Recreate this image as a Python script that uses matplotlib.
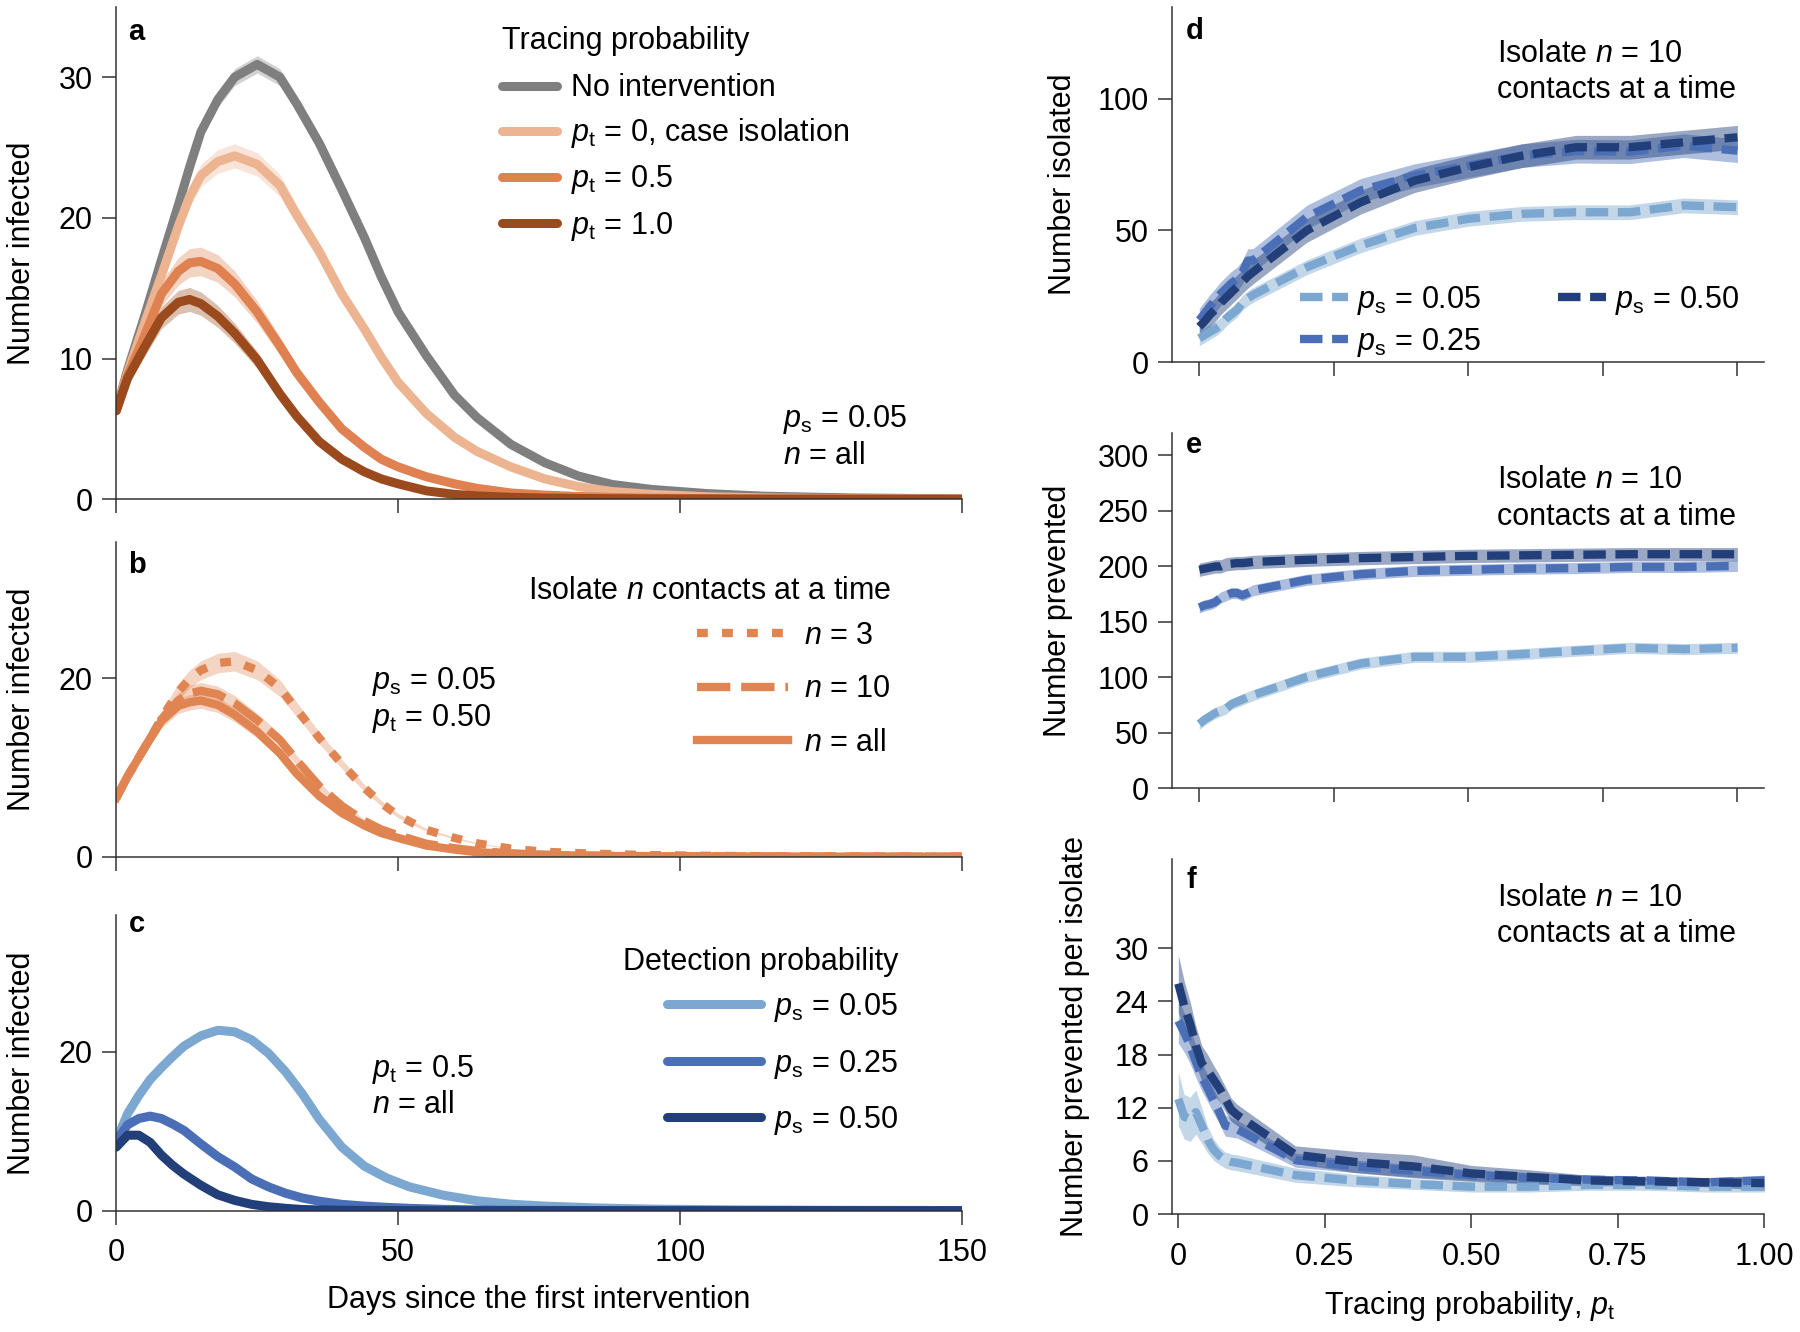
import matplotlib
matplotlib.use('Agg')
import matplotlib.pyplot as plt
import numpy as np

# ---- datos ----
# panel a: numero de infectados vs dias
days_a = [0, 2, 5, 8, 11, 13, 15, 18, 21, 25, 29, 32, 36, 40, 44, 47, 50, 55, 60, 64,
          70, 76, 82, 88, 95, 105, 115, 130, 150]
a_none = [6.3, 9.2, 13.0, 17.0, 20.9, 23.6, 26.1, 28.4, 30.0, 30.9, 30.0, 28.1, 25.3, 22.0, 18.6,
          15.8, 13.3, 10.2, 7.4, 5.8, 3.9, 2.6, 1.65, 1.05, 0.7, 0.4, 0.22, 0.1, 0.03]
a_pt0 = [6.3, 9.0, 12.5, 15.9, 19.4, 21.5, 23.0, 24.0, 24.4, 23.8, 22.3, 20.2, 17.6, 14.6, 12.1,
         10.1, 8.3, 6.1, 4.4, 3.4, 2.3, 1.45, 0.9, 0.55, 0.35, 0.18, 0.1, 0.05, 0.02]
a_pt05 = [6.3, 8.8, 11.6, 14.6, 16.2, 16.8, 16.9, 16.4, 15.3, 13.3, 10.9, 9.0, 6.9, 5.0, 3.7,
          2.85, 2.3, 1.6, 1.1, 0.78, 0.45, 0.3, 0.2, 0.13, 0.08, 0.05, 0.03, 0.02, 0.01]
a_pt1 = [6.3, 8.6, 10.8, 12.9, 14.0, 14.2, 13.9, 13.0, 11.8, 9.9, 7.5, 5.9, 4.1, 2.85, 1.95,
         1.45, 1.1, 0.6, 0.35, 0.24, 0.14, 0.09, 0.06, 0.04, 0.03, 0.02, 0.01, 0.01, 0.0]

# panel b: n contactos aislados a la vez
days_b = days_a
b_n3 = [6.6, 9.0, 12.2, 15.5, 18.5, 19.9, 20.9, 21.7, 21.9, 20.9, 18.9, 16.5, 13.3, 10.4, 7.7,
        6.0, 4.6, 3.0, 2.1, 1.5, 0.9, 0.55, 0.4, 0.28, 0.18, 0.1, 0.06, 0.03, 0.01]
b_n10 = [6.6, 9.0, 12.2, 15.4, 17.5, 18.3, 18.6, 18.2, 17.2, 15.3, 13.1, 10.8, 7.9, 5.7, 4.0,
         3.05, 2.4, 1.45, 0.95, 0.65, 0.37, 0.22, 0.14, 0.1, 0.06, 0.04, 0.02, 0.01, 0.0]
b_nall = [6.6, 9.0, 12.2, 15.2, 16.9, 17.3, 17.5, 17.0, 15.9, 14.0, 11.6, 9.3, 6.8, 4.9, 3.5,
          2.65, 2.1, 1.25, 0.8, 0.5, 0.3, 0.2, 0.12, 0.08, 0.05, 0.03, 0.02, 0.01, 0.0]

# panel c: probabilidad de deteccion
days_c = [0, 2, 4, 6, 8, 10, 12, 15, 18, 21, 24, 27, 30, 33, 36, 40, 44, 48, 52, 58, 64, 70,
          76, 85, 95, 110, 130, 150]
c_ps005 = [8.8, 12.2, 14.5, 16.5, 18.0, 19.4, 20.7, 22.0, 22.7, 22.5, 21.5, 19.8, 17.5, 14.7,
           11.5, 8.0, 5.6, 4.1, 3.0, 1.95, 1.25, 0.82, 0.58, 0.35, 0.2, 0.1, 0.05, 0.02]
c_ps025 = [8.8, 10.8, 11.6, 11.9, 11.6, 10.9, 10.1, 8.4, 6.8, 5.5, 4.0, 3.0, 2.2, 1.6, 1.2, 0.8,
           0.58, 0.42, 0.3, 0.17, 0.1, 0.06, 0.04, 0.02, 0.01, 0.0, 0.0, 0.0]
c_ps050 = [8.0, 9.5, 9.5, 8.6, 7.0, 5.7, 4.6, 3.2, 2.0, 1.3, 0.8, 0.5, 0.3, 0.15, 0.1, 0.05,
           0.03, 0.02, 0.01, 0.0, 0.0, 0.0, 0.0, 0.0, 0.0, 0.0, 0.0, 0.0]

# paneles d-f: vs probabilidad de rastreo
pt = [0, 0.01, 0.02, 0.03, 0.04, 0.05, 0.06, 0.07, 0.08, 0.09, 0.1,
      0.2, 0.3, 0.4, 0.5, 0.6, 0.7, 0.8, 0.9, 1.0]
d_ps005 = [9.0, 10.2, 11.5, 12.6, 14.2, 16.5, 18.2, 19.8, 22.5, 24.2, 25.5,
           36.0, 44.3, 50.9, 54.4, 56.3, 56.9, 56.9, 59.5, 58.8]
d_ps025 = [15.9, 18.5, 21.2, 23.5, 26.0, 28.0, 30.0, 31.5, 34.0, 38.5, 38.6,
           55.1, 65.2, 70.8, 74.6, 78.4, 80.1, 79.9, 82.2, 80.3]
d_ps050 = [13.4, 15.5, 18.0, 20.0, 22.5, 24.5, 26.5, 28.5, 30.5, 32.5, 34.2,
           50.0, 60.7, 68.9, 74.0, 78.4, 81.6, 81.6, 83.5, 85.4]
e_ps005 = [58, 62, 65, 68, 70, 72, 76, 78, 80, 82, 84,
           100.5, 112.5, 118.5, 118.5, 121, 124, 126.6, 125.4, 126.6]
e_ps025 = [163, 165, 166, 168, 172, 174, 176, 176, 174, 176, 178.5,
           188, 193, 196, 197, 198, 198.5, 199.5, 199.5, 200.5]
e_ps050 = [197, 198, 199, 200, 200, 202, 202.5, 203, 203, 203.5, 204,
           206, 207.5, 208.5, 209.5, 210, 210.5, 211, 211, 211]
f_ps005 = [13.0, 11.0, 10.7, 11.5, 10.0, 8.4, 7.3, 6.6, 6.1, 5.9, 5.8,
           4.4, 3.8, 3.4, 3.1, 3.1, 3.3, 3.3, 3.1, 3.1]
f_ps025 = [21.8, 20.5, 19.0, 17.2, 15.5, 14.2, 12.8, 11.5, 10.0, 9.8, 9.6,
           6.1, 5.4, 4.9, 4.4, 4.1, 3.9, 3.8, 3.6, 3.8]
f_ps050 = [26.0, 23.5, 21.5, 19.0, 17.0, 16.2, 15.2, 14.2, 13.0, 11.8, 11.2,
           6.7, 5.9, 5.4, 4.6, 4.2, 3.8, 3.7, 3.6, 3.5]
# semiancho de los intervalos en f
f_ci005 = [3.0, 2.5, 2.5, 2.5, 2.0, 1.5, 1.2, 1.0, 0.9, 0.9, 0.9, 0.8, 0.7, 0.6, 0.6, 0.6, 0.6, 0.6, 0.6, 0.6]
f_ci025 = [2.5, 2.2, 2.0, 1.8, 1.6, 1.5, 1.4, 1.3, 1.2, 1.1, 1.0, 0.8, 0.7, 0.7, 0.6, 0.6, 0.5, 0.5, 0.5, 0.6]
f_ci050 = [3.2, 2.8, 2.5, 2.2, 2.0, 1.8, 1.6, 1.5, 1.4, 1.3, 1.2, 1.0, 1.2, 1.3, 0.9, 0.8, 0.6, 0.5, 0.5, 0.8]

# ---- estilo ----
plt.rcParams['font.family'] = ['Liberation Sans', 'DejaVu Sans']
plt.rcParams['mathtext.fontset'] = 'custom'
plt.rcParams['mathtext.rm'] = 'Liberation Sans'
plt.rcParams['mathtext.it'] = 'Liberation Sans:italic'
plt.rcParams['mathtext.bf'] = 'Liberation Sans:bold'
plt.rcParams['font.size'] = 22
plt.rcParams['axes.linewidth'] = 1.1
plt.rcParams['axes.edgecolor'] = '#333333'
for ax_name in ['xtick', 'ytick']:
    plt.rcParams[ax_name + '.major.size'] = 10
    plt.rcParams[ax_name + '.major.width'] = 1.1
    plt.rcParams[ax_name + '.color'] = '#333333'
    plt.rcParams[ax_name + '.labelcolor'] = 'black'
plt.rcParams['ytick.major.pad'] = 7
plt.rcParams['xtick.major.pad'] = 10

GRAY = '#7f7f7f'
OR_LIGHT = '#ecb490'
OR_MID = '#df8150'
OR_DARK = '#9a4a1c'
OR_B = '#e08552'
B_LIGHT = '#7ba7d0'
B_MID = '#4a6fb6'
B_DARK = '#233f7a'

W, H = 1800, 1332
fig = plt.figure(figsize=(W / 100, H / 100), dpi=100)


def nuevo_eje(left, top, right, bottom):
    return fig.add_axes([left / W, 1 - bottom / H, (right - left) / W, (bottom - top) / H])


def estilo(ax):
    ax.spines['top'].set_visible(False)
    ax.spines['right'].set_visible(False)


def curva(ax, x, y, rel, color, label=None, lw=6.5, alpha=0.35, **kw):
    y = np.array(y)
    ax.fill_between(x, y * (1 - rel), y * (1 + rel), color=color, alpha=alpha, lw=0)
    ax.plot(x, y, color=color, lw=lw, label=label, solid_capstyle='round', **kw)


ley = dict(frameon=False, borderpad=0, borderaxespad=0)

ax_a = nuevo_eje(116.3, 6.7, 962, 499.3)
ax_b = nuevo_eje(116.3, 541.7, 962, 856.7)
ax_c = nuevo_eje(116.3, 915, 962, 1210.7)
ax_d = nuevo_eje(1172.4, 6.7, 1764.3, 362)
ax_e = nuevo_eje(1172.4, 433.3, 1764.3, 788.3)
ax_f = nuevo_eje(1172.4, 859.4, 1764.3, 1214.2)

# ---- panel a ----
curva(ax_a, days_a, a_none, 0.02, GRAY, 'No intervention')
curva(ax_a, days_a, a_pt0, 0.035, OR_LIGHT, r'$p_\mathrm{t}$ = 0, case isolation')
curva(ax_a, days_a, a_pt05, 0.06, OR_MID, r'$p_\mathrm{t}$ = 0.5')
curva(ax_a, days_a, a_pt1, 0.06, OR_DARK, r'$p_\mathrm{t}$ = 1.0')
ax_a.set_ylim(0, 35)
ax_a.set_yticks([0, 10, 20, 30])
ax_a.legend(loc='upper left', bbox_to_anchor=(0.456, 0.865), handlelength=1.8,
            handletextpad=0.45, labelspacing=0.43, **ley)
ax_a.text(0.456, 0.915, 'Tracing probability', transform=ax_a.transAxes, va='baseline')
ax_a.text(0.788, 0.147, r'$p_\mathrm{s}$ = 0.05', transform=ax_a.transAxes, va='baseline')
ax_a.text(0.788, 0.072, r'$n$ = all', transform=ax_a.transAxes, va='baseline')

# ---- panel b ----
for y, ls, lab in [(b_n3, (0, (1.3, 1.7)), r'$n$ = 3'),
                   (b_n10, (0, (4, 1.3)), r'$n$ = 10'),
                   (b_nall, '-', r'$n$ = all')]:
    y = np.array(y)
    ax_b.fill_between(days_b, y * 0.95, y * 1.05, color=OR_B, alpha=0.35, lw=0)
    ax_b.plot(days_b, y, color=OR_B, lw=6, ls=ls, label=lab, dash_capstyle='butt')
ax_b.set_ylim(0, 35.3)
ax_b.set_yticks([0, 20])
ax_b.legend(loc='upper right', bbox_to_anchor=(0.916, 0.748), handlelength=2.95,
            handletextpad=0.55, labelspacing=0.76, **ley)
ax_b.text(0.916, 0.817, r'Isolate $n$ contacts at a time', transform=ax_b.transAxes,
          va='baseline', ha='right')
ax_b.text(0.302, 0.531, r'$p_\mathrm{s}$ = 0.05', transform=ax_b.transAxes, va='baseline')
ax_b.text(0.302, 0.415, r'$p_\mathrm{t}$ = 0.50', transform=ax_b.transAxes, va='baseline')

# ---- panel c ----
curva(ax_c, days_c, c_ps005, 0.02, B_LIGHT, r'$p_\mathrm{s}$ = 0.05')
curva(ax_c, days_c, c_ps025, 0.02, B_MID, r'$p_\mathrm{s}$ = 0.25')
curva(ax_c, days_c, c_ps050, 0.02, B_DARK, r'$p_\mathrm{s}$ = 0.50')
ax_c.set_ylim(0, 37.2)
ax_c.set_yticks([0, 20])
ax_c.legend(loc='upper right', bbox_to_anchor=(0.925, 0.743), handlelength=3.05,
            handletextpad=0.45, labelspacing=0.77, **ley)
ax_c.text(0.925, 0.814, 'Detection probability', transform=ax_c.transAxes,
          va='baseline', ha='right')
ax_c.text(0.302, 0.453, r'$p_\mathrm{t}$ = 0.5', transform=ax_c.transAxes, va='baseline')
ax_c.text(0.302, 0.331, r'$n$ = all', transform=ax_c.transAxes, va='baseline')

for ax in [ax_a, ax_b, ax_c]:
    estilo(ax)
    ax.set_xlim(0, 150)
    ax.set_xticks([0, 50, 100, 150])
    ax.set_ylabel('Number infected', va='center')
    ax.yaxis.set_label_coords(-0.112, 0.5)
ax_a.tick_params(axis='x', labelbottom=False)
ax_b.tick_params(axis='x', labelbottom=False)
ax_c.set_xlabel('Days since the first intervention', va='center')
ax_c.xaxis.set_label_coords(0.5, -0.302)

# ---- paneles d, e, f ----
dash = (0, (2.7, 1.15))


def curva_disc(ax, y, hw, color, label=None):
    y = np.array(y)
    hw = np.array(hw)
    ax.fill_between(pt, y - hw, y + hw, color=color, alpha=0.45, lw=0)
    ax.plot(pt, y, color=color, lw=6, ls=dash, dash_capstyle='butt', label=label)


curva_disc(ax_d, d_ps005, 2.8, B_LIGHT, r'$p_\mathrm{s}$ = 0.05')
curva_disc(ax_d, d_ps025, 4.5, B_MID, r'$p_\mathrm{s}$ = 0.25')
curva_disc(ax_d, d_ps050, 4.5, B_DARK, r'$p_\mathrm{s}$ = 0.50')
curva_disc(ax_e, e_ps005, 5.0, B_LIGHT)
curva_disc(ax_e, e_ps025, 5.0, B_MID)
curva_disc(ax_e, e_ps050, 6.0, B_DARK)
curva_disc(ax_f, f_ps005, f_ci005, B_LIGHT)
curva_disc(ax_f, f_ps025, f_ci025, B_MID)
curva_disc(ax_f, f_ps050, f_ci050, B_DARK)

ax_d.set_ylim(0, 135)
ax_d.set_yticks([0, 50, 100])
ax_e.set_ylim(0, 320)
ax_e.set_yticks([0, 50, 100, 150, 200, 250, 300])
ax_f.set_ylim(0, 40)
ax_f.set_yticks([0, 6, 12, 18, 24, 30])

for ax in [ax_d, ax_e, ax_f]:
    estilo(ax)
    ax.set_xticks([0, 0.25, 0.5, 0.75, 1.0])
    ax.text(0.548, 0.845 if ax is not ax_f else 0.868, r'Isolate $n$ = 10',
            transform=ax.transAxes, va='baseline')
    ax.text(0.548, 0.742 if ax is not ax_f else 0.766, 'contacts at a time',
            transform=ax.transAxes, va='baseline')
ax_d.set_xlim(-0.05, 1.05)
ax_e.set_xlim(-0.05, 1.05)
ax_f.set_xlim(-0.0101, 1.0)
ax_d.tick_params(axis='x', labelbottom=False)
ax_e.tick_params(axis='x', labelbottom=False)
ax_f.set_xticklabels(['0', '0.25', '0.50', '0.75', '1.00'])

ax_d.legend(ncol=2, loc='upper left', bbox_to_anchor=(0.216, 0.2195), handlelength=1.57,
            handletextpad=0.3, labelspacing=0.28, columnspacing=2.5, **ley)

ax_d.set_ylabel('Number isolated', va='center')
ax_d.yaxis.set_label_coords(-0.184, 0.5)
ax_e.set_ylabel('Number prevented', va='center')
ax_e.yaxis.set_label_coords(-0.193, 0.5)
ax_f.set_ylabel('Number prevented per isolate', va='center')
ax_f.yaxis.set_label_coords(-0.164, 0.5)
ax_f.set_xlabel(r'Tracing probability, $p_\mathrm{t}$', va='center')
ax_f.xaxis.set_label_coords(0.502, -0.259)

# letras de los paneles
for ax, letra, x, y in [(ax_a, 'a', 0.0145, 0.932), (ax_b, 'b', 0.0145, 0.90),
                        (ax_c, 'c', 0.0145, 0.944), (ax_d, 'd', 0.023, 0.908),
                        (ax_e, 'e', 0.023, 0.944), (ax_f, 'f', 0.023, 0.919)]:
    ax.text(x, y, letra, transform=ax.transAxes, fontsize=21, fontweight='bold', va='baseline')

fig.savefig('out.png', dpi=100)
